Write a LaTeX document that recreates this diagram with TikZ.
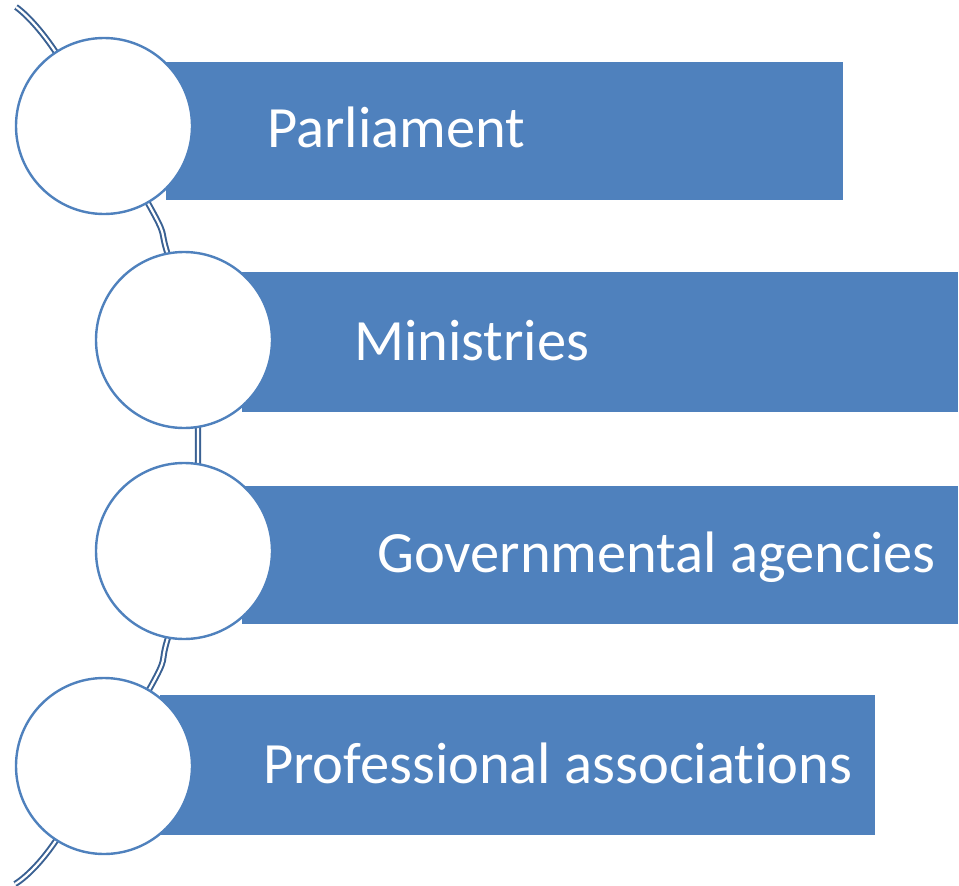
\documentclass[tikz,border=0pt]{standalone}
\usepackage{fontspec}
\setmainfont[Ligatures={NoCommon,NoRequired,NoContextual}]{Carlito}
\definecolor{boxblue}{HTML}{4F81BD}
\definecolor{linedark}{HTML}{3A6193}
\begin{document}
\begin{tikzpicture}[x=1pt,y=-1pt,
  bar/.style={fill=boxblue,draw=none},
  disc/.style={circle,draw=boxblue,line width=2.4pt,fill=white,minimum size=176pt,inner sep=0pt},
  label/.style={anchor=base west,text=white,font=\fontsize{58.5}{61}\selectfont,inner sep=0pt},
  spine/.style={draw=linedark,line width=2pt,double=white,double distance=2.2pt}]
\useasboundingbox (0,0) rectangle (959,886);
% spine curve
\draw[spine] plot[smooth,tension=0.6] coordinates {(16,7) (55,51) (149,205) (167,252) (193,350) (198,446) (193,542) (167,641) (150,688) (55,842) (15,884)};
% bars
\fill[bar] (166,62) rectangle (843,200);
\fill[bar] (242,272) rectangle (958,412);
\fill[bar] (242,486) rectangle (958,624);
\fill[bar] (160,695) rectangle (875,835);
% circles
\node[disc] (c1) at (104,126) {};
\node[disc] (c2) at (184,340) {};
\node[disc] (c3) at (184,551) {};
\node[disc] (c4) at (104,766) {};
% labels
\node[label] (t1) at (267,147) {Parliament};
\node[label] (t2) at (354,360) {Ministries};
\node[label] (t3) at (377,572) {Governmental agencies};
\node[label] (t4) at (263,783) {Professional associations};
\end{tikzpicture}
\end{document}
